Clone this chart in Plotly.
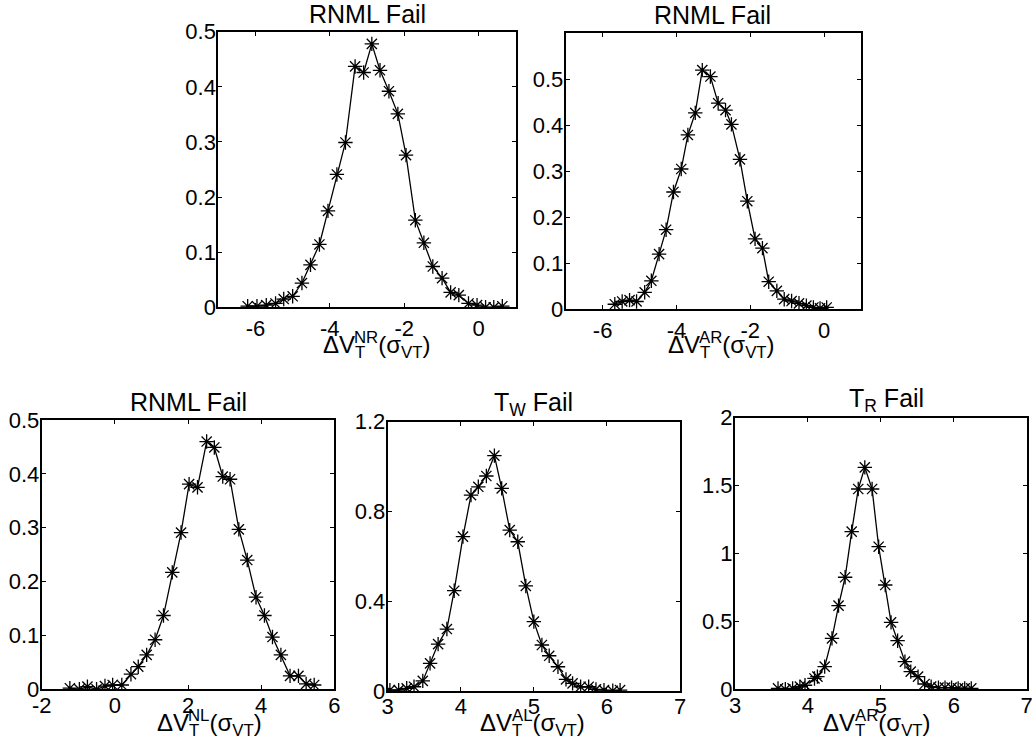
import plotly.graph_objects as go

# ---------------- data ----------------
x_nr = [-6.21, -5.96, -5.71, -5.46, -5.24, -5.00, -4.75, -4.52, -4.28, -4.05,
        -3.81, -3.58, -3.32, -3.09, -2.87, -2.65, -2.41, -2.17, -1.95, -1.70,
        -1.47, -1.23, -0.98, -0.75, -0.53, -0.27, -0.04, 0.19, 0.41, 0.64]
y_nr = [0.002, 0.002, 0.004, 0.007, 0.015, 0.020, 0.044, 0.077, 0.114, 0.175,
        0.241, 0.299, 0.437, 0.426, 0.478, 0.430, 0.392, 0.351, 0.276, 0.158,
        0.117, 0.074, 0.053, 0.027, 0.022, 0.007, 0.004, 0.000, 0.000, 0.002]

x_ar1 = [-5.67, -5.47, -5.27, -5.08, -4.86, -4.68, -4.47, -4.28, -4.08, -3.87,
         -3.69, -3.49, -3.30, -3.08, -2.87, -2.67, -2.51, -2.28, -2.08, -1.87,
         -1.67, -1.50, -1.28, -1.08, -0.88, -0.68, -0.48, -0.29, -0.11, 0.07]
y_ar1 = [0.011, 0.017, 0.020, 0.017, 0.037, 0.062, 0.120, 0.173, 0.255, 0.305,
         0.379, 0.427, 0.520, 0.506, 0.448, 0.433, 0.402, 0.326, 0.235, 0.153,
         0.133, 0.060, 0.040, 0.022, 0.018, 0.013, 0.008, 0.004, 0.002, 0.004]

x_nl = [-1.23, -0.97, -0.75, -0.50, -0.27, -0.06, 0.19, 0.44, 0.64, 0.87,
        1.10, 1.33, 1.57, 1.81, 2.03, 2.26, 2.51, 2.72, 2.95, 3.15,
        3.39, 3.62, 3.86, 4.09, 4.31, 4.54, 4.79, 5.02, 5.23, 5.45]
y_nl = [0.002, 0.000, 0.005, 0.000, 0.006, 0.008, 0.008, 0.028, 0.042, 0.064,
        0.092, 0.137, 0.217, 0.291, 0.381, 0.375, 0.460, 0.449, 0.395, 0.390,
        0.297, 0.240, 0.171, 0.137, 0.097, 0.064, 0.025, 0.025, 0.010, 0.008]

x_al = [3.03, 3.15, 3.26, 3.36, 3.48, 3.58, 3.69, 3.81, 3.91, 4.03,
        4.14, 4.24, 4.35, 4.46, 4.56, 4.67, 4.78, 4.89, 5.00, 5.11,
        5.21, 5.33, 5.44, 5.53, 5.64, 5.75, 5.85, 5.96, 6.08, 6.18]
y_al = [0.004, 0.004, 0.012, 0.019, 0.045, 0.123, 0.209, 0.276, 0.447, 0.688,
        0.873, 0.910, 0.958, 1.049, 0.903, 0.717, 0.665, 0.468, 0.309, 0.205,
        0.157, 0.108, 0.052, 0.034, 0.019, 0.019, 0.007, 0.004, 0.001, 0.004]

x_ar2 = [3.59, 3.69, 3.79, 3.89, 3.96, 4.09, 4.13, 4.23, 4.33, 4.42,
         4.51, 4.60, 4.69, 4.78, 4.88, 4.97, 5.06, 5.14, 5.23, 5.33,
         5.41, 5.51, 5.60, 5.69, 5.79, 5.88, 5.97, 6.06, 6.15, 6.24]
y_ar2 = [0.007, 0.000, 0.007, 0.020, 0.030, 0.080, 0.093, 0.167, 0.375, 0.616,
         0.825, 1.161, 1.475, 1.634, 1.475, 1.050, 0.768, 0.493, 0.358, 0.204,
         0.130, 0.093, 0.039, 0.020, 0.012, 0.012, 0.012, 0.007, 0.007, 0.007]

titles = ["RNML Fail", "RNML Fail", "RNML Fail", "T<sub>W</sub> Fail", "T<sub>R</sub> Fail"]
sup_labels = ["NR", "AR", "NL", "AL", "AR"]

x_ticks = [[-6, -4, -2, 0], [-6, -4, -2, 0], [-2, 0, 2, 4, 6], [3, 4, 5, 6, 7], [3, 4, 5, 6, 7]]
y_ticks = [[0, 0.1, 0.2, 0.3, 0.4, 0.5], [0, 0.1, 0.2, 0.3, 0.4, 0.5],
           [0, 0.1, 0.2, 0.3, 0.4, 0.5], [0, 0.4, 0.8, 1.2], [0, 0.5, 1, 1.5, 2]]
y_ticktext = [["0", "0.1", "0.2", "0.3", "0.4", "0.5"], ["0", "0.1", "0.2", "0.3", "0.4", "0.5"],
              ["0", "0.1", "0.2", "0.3", "0.4", "0.5"], ["0", "0.4", "0.8", "1.2"],
              ["0", "0.5", "1", "1.5", "2"]]
x_ranges = [[-7, 1], [-7, 1], [-2, 6], [3, 7], [3, 7]]
y_ranges = [[0, 0.5], [0, 0.6], [0, 0.5], [0, 1.2], [0, 2]]

series = [(x_nr, y_nr), (x_ar1, y_ar1), (x_nl, y_nl), (x_al, y_al), (x_ar2, y_ar2)]

# ---------------- layout geometry (pixels) ----------------
W, H = 1032, 749
boxes = [(218.3, 515.7, 31.7, 307.3),
         (565.7, 861.0, 33.3, 309.3),
         (41.7, 334.3, 420.0, 689.3),
         (387.7, 680.0, 421.7, 691.0),
         (735.0, 1026.7, 417.7, 689.3)]
xtick_standoff = [0, 0, -5, -5, -5]
label_j = [354.3, 699.3, 188.3, 511.7, 855.0]
label_bottom = [362, 362, 740, 740, 740]
title_cx = [367, 712, 188, 533, 886]
title_bottom = [28, 29, 416, 420, 416]

FONT = "Liberation Sans, Arial, sans-serif"
TICK_FS = 22
LAB_FS = 24
TITLE_FS = 25


def px(xp):
    return xp / W


def py(yp):
    return 1 - yp / H


fig = go.Figure()
layout = dict(width=W, height=H, autosize=False,
              margin=dict(l=0, r=0, t=0, b=0, pad=0, autoexpand=False),
              paper_bgcolor="white", plot_bgcolor="white",
              showlegend=False, font=dict(family=FONT, color="black"))
annotations = []

for i, ((xs, ys), (l, r, t, b)) in enumerate(zip(series, boxes)):
    n = "" if i == 0 else str(i + 1)
    fig.add_trace(go.Scatter(
        x=xs, y=ys, mode="lines+markers", xaxis="x" + n, yaxis="y" + n,
        line=dict(color="black", width=1.3),
        marker=dict(symbol="asterisk-open", size=12, color="black",
                    line=dict(color="black", width=1.3))))
    common = dict(showgrid=False, zeroline=False, showline=True, linecolor="black",
                  linewidth=2, mirror="ticks", ticks="inside", ticklen=4,
                  tickwidth=1, tickcolor="black", automargin=False,
                  ticklabeloverflow="allow",
                  tickfont=dict(family=FONT, size=TICK_FS, color="black"))
    layout["xaxis" + n] = dict(common, domain=[px(l), px(r)], anchor="y" + n,
                               range=x_ranges[i], tickmode="array",
                               ticklabelstandoff=xtick_standoff[i],
                               tickvals=x_ticks[i], ticktext=[str(v) for v in x_ticks[i]])
    layout["yaxis" + n] = dict(common, domain=[py(b), py(t)], anchor="x" + n,
                               range=y_ranges[i], tickmode="array", ticklabelstandoff=-4,
                               tickvals=y_ticks[i], ticktext=y_ticktext[i])
    annotations.append(dict(text=titles[i], xref="paper", yref="paper",
                            x=px(title_cx[i]), y=py(title_bottom[i]),
                            xanchor="center", yanchor="bottom", showarrow=False,
                            borderpad=0, borderwidth=0,
                            font=dict(family=FONT, size=TITLE_FS, color="black")))
    j = label_j[i]
    wT = 0.7 * LAB_FS * 0.611
    annotations.append(dict(text="ΔV<sub>T</sub>", xref="paper", yref="paper",
                            x=px(j + wT), y=py(label_bottom[i]),
                            xanchor="right", yanchor="bottom", showarrow=False,
                            borderpad=0, borderwidth=0,
                            font=dict(family=FONT, size=LAB_FS, color="black")))
    annotations.append(dict(text="<sup>" + sup_labels[i] + "</sup>(σ<sub>VT</sub>)",
                            xref="paper", yref="paper",
                            x=px(j), y=py(label_bottom[i]),
                            xanchor="left", yanchor="bottom", showarrow=False,
                            borderpad=0, borderwidth=0,
                            font=dict(family=FONT, size=LAB_FS, color="black")))

layout["annotations"] = annotations
fig.update_layout(**layout)
fig.write_html("out.html", config={"displayModeBar": False},
               post_script="document.body.style.margin='0';document.body.style.overflow='hidden';")
